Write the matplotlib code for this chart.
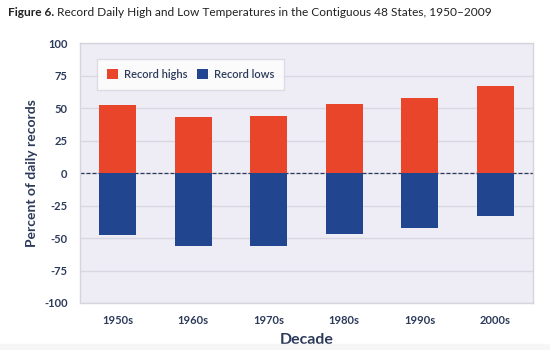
import numpy as np
import matplotlib
matplotlib.use('Agg')
import matplotlib.pyplot as plt
from matplotlib.patches import Rectangle

decadas = ['1950s', '1960s', '1970s', '1980s', '1990s', '2000s']
recordes_altos = [52, 43.5, 44, 53, 58, 67]
recordes_baixos = [48, 56.5, 56, 47, 42, 33]

cor_alta = '#E8452B'
cor_baixa = '#21468F'
cor_texto = '#2C3A5A'

plt.rcParams['font.family'] = ['Lato', 'DejaVu Sans']
plt.rcParams['axes.unicode_minus'] = False

fig = plt.figure(figsize=(5.5, 3.5), dpi=100)
# faixa cinza clara no rodape
fig.patches.append(Rectangle((0, 0), 1, 0.018, transform=fig.transFigure,
                             color='#F6F6F6', zorder=0))
ax = fig.add_axes([0.1455, 0.1343, 0.8236, 0.7426])
ax.set_facecolor('#EEEDF5')

x = np.arange(len(decadas))
ax.bar(x, recordes_altos, width=0.49, color=cor_alta, label='Record highs', zorder=3)
ax.bar(x, [-v for v in recordes_baixos], width=0.49, color=cor_baixa, label='Record lows', zorder=3)
ax.axhline(0, color='#2C3A5A', linestyle=(0, (3.2, 1.6)), linewidth=0.9, zorder=2)

ax.set_xlim(-0.5, 5.5)
ax.set_ylim(-100, 100)
ax.set_yticks(range(-100, 101, 25))
ax.set_xticks(x)
ax.set_xticklabels(decadas)
ax.grid(axis='y', color='#D9D8E2', linewidth=1, zorder=0)
ax.tick_params(length=0, colors=cor_texto, labelsize=8)
ax.tick_params(axis='y', pad=9)
ax.tick_params(axis='x', pad=9)
for lbl in ax.get_xticklabels() + ax.get_yticklabels():
    lbl.set_fontweight('bold')
for s in ax.spines.values():
    s.set_color('#D6D5DE')
    s.set_linewidth(1)

ax.set_ylabel('Percent of daily records', fontsize=10, fontweight='bold', color=cor_texto, labelpad=4)
ax.set_xlabel('Decade', fontsize=11.5, fontweight='bold', color=cor_texto, labelpad=5)

leg = ax.legend(loc='upper left', bbox_to_anchor=(0.0375, 0.938), borderaxespad=0, ncol=2,
                frameon=True, fancybox=False, fontsize=8, handlelength=1.0, handleheight=1.0,
                columnspacing=0.9, handletextpad=0.5, borderpad=0.9)
leg.get_frame().set_edgecolor('#D6D5DE')
leg.get_frame().set_linewidth(1)
for t in leg.get_texts():
    t.set_color(cor_texto)
    t.set_fontweight('semibold')

# titulo com parte em negrito
t1 = fig.text(0.015, 0.955, 'Figure 6.', fontsize=8.6, fontweight='bold', color='#222222', va='baseline')
fig.canvas.draw()
bb = t1.get_window_extent()
x_fim = bb.x1 / fig.bbox.width
fig.text(x_fim + 0.005, 0.955, 'Record Daily High and Low Temperatures in the Contiguous 48 States, 1950\u20132009',
         fontsize=8.6, color='#222222', va='baseline')

fig.savefig('out.png', dpi=100)
